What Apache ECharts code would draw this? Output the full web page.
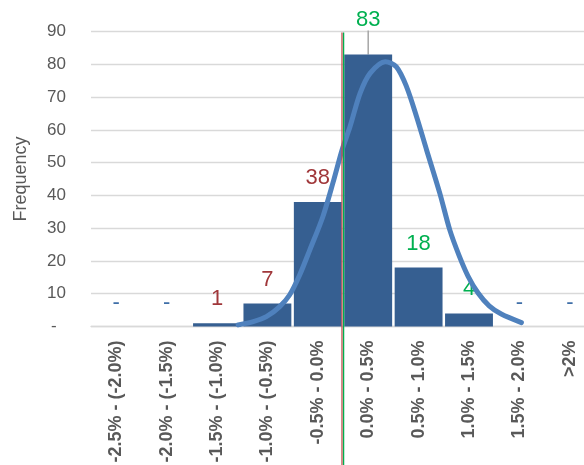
<!DOCTYPE html>
<html>
<head>
<meta charset="utf-8">
<script src="https://cdn.jsdelivr.net/npm/echarts@6/dist/echarts.min.js"></script>
<style>
  html, body { margin: 0; padding: 0; background: #ffffff; }
  #chart { width: 584px; height: 465px; }
</style>
</head>
<body>
<div id="chart"></div>
<script>
// Return-range bins (0.5% wide) and how many days fell into each
var categories = ['-2.5% - (-2.0%)', '-2.0% - (-1.5%)', '-1.5% - (-1.0%)', '-1.0% - (-0.5%)',
                  '-0.5% - 0.0%', '0.0% - 0.5%', '0.5% - 1.0%', '1.0% - 1.5%', '1.5% - 2.0%', '>2%'];
var frequency = [0, 0, 1, 7, 38, 83, 18, 4, 0, 0];

// Fitted normal curve, points as [return %, frequency]
var normalCurve = [
  [-1.04, 0.5], [-0.89, 1.5], [-0.76, 3.0], [-0.63, 6.0], [-0.53, 9.6], [-0.43, 15.7],
  [-0.33, 23.3], [-0.20, 33.5], [-0.10, 43.8], [-0.01, 53.8], [0.07, 61.0], [0.17, 71.2],
  [0.27, 77.3], [0.42, 80.8], [0.53, 79.2], [0.63, 73.2], [0.73, 64.0],
  [0.83, 53.8], [0.96, 40.7], [1.06, 29.4], [1.15, 21.8], [1.24, 15.4], [1.34, 10.2],
  [1.45, 6.3], [1.57, 3.8], [1.77, 1.2]
];

// Reference lines (return %): mean and median
var meanReturn = -0.01;
var medianReturn = 0.006;
var refLineTop = 89.7;
var refLineBottom = -60;

// Y-axis ticks
var yTicks = { min: 0, max: 90, interval: 10 };

var RED = '#a0373a', GREEN = '#00b050', DASH = '#3f6fa8';

var barData = frequency.map(function (v, i) {
  var color = v === 0 ? DASH : (i < 5 ? RED : GREEN);
  var item = { value: v, label: { color: color } };
  if (i === 7) { item.label.offset = [-5, 5]; }
  if (i === 5) { item.labelLine = { show: true }; }
  return item;
});

var chart = echarts.init(document.getElementById('chart'), null, { renderer: 'canvas' });
chart.setOption({
  animation: false,
  textStyle: { fontFamily: 'Liberation Sans' },
  grid: { left: 91, width: 504, top: 31.5, height: 295, containLabel: false, outerBoundsMode: 'none' },
  xAxis: [
    {
      type: 'category',
      data: categories,
      axisLine: { show: true, lineStyle: { color: '#d9d9d9', width: 1.3 } },
      axisTick: { show: false },
      axisLabel: {
        interval: 0, rotate: 90, margin: 14,
        color: '#595959', fontSize: 18, fontWeight: 'bold',
        fontFamily: 'Liberation Sans'
      }
    },
    { type: 'value', min: -2.5, max: 2.5, show: false }
  ],
  yAxis: {
    type: 'value',
    min: yTicks.min, max: yTicks.max, interval: yTicks.interval,
    name: 'Frequency', nameLocation: 'middle', nameGap: 61, nameRotate: 90,
    nameTextStyle: { color: '#595959', fontSize: 18, fontFamily: 'Liberation Sans' },
    axisLine: { show: false },
    axisTick: { show: false },
    axisLabel: {
      margin: 25, color: '#595959', fontSize: 17, fontFamily: 'Liberation Sans',
      formatter: function (v) { return v === 0 ? '-  ' : v; }
    },
    splitLine: { lineStyle: { color: '#d9d9d9', width: 1.3 } }
  },
  series: [
    {
      type: 'bar',
      data: barData,
      barCategoryGap: '5%',
      itemStyle: { color: '#365f91' },
      label: {
        show: true, position: 'top', distance: 13,
        fontSize: 22, fontFamily: 'Liberation Sans',
        formatter: function (p) { return p.value === 0 ? '-' : p.value; }
      },
      labelLine: { show: false, lineStyle: { color: '#a6a6a6', width: 1.5 } },
      labelLayout: function (params) {
        if (params.dataIndex === 5) { return { dy: -11 }; }
      },
      z: 2
    },
    {
      type: 'line',
      xAxisIndex: 1,
      data: normalCurve,
      smooth: 0.3,
      symbol: 'none',
      lineStyle: { color: '#4f81bd', width: 5, cap: 'round' },
      z: 3
    },
    {
      type: 'line',
      xAxisIndex: 1,
      data: [[meanReturn, refLineBottom], [meanReturn, refLineTop]],
      symbol: 'none', clip: false,
      lineStyle: { color: '#c0504d', width: 1.3 },
      z: 4
    },
    {
      type: 'line',
      xAxisIndex: 1,
      data: [[medianReturn, refLineBottom], [medianReturn, refLineTop]],
      symbol: 'none', clip: false,
      lineStyle: { color: '#00b050', width: 1.3 },
      z: 4
    }
  ]
});
</script>
</body>
</html>
